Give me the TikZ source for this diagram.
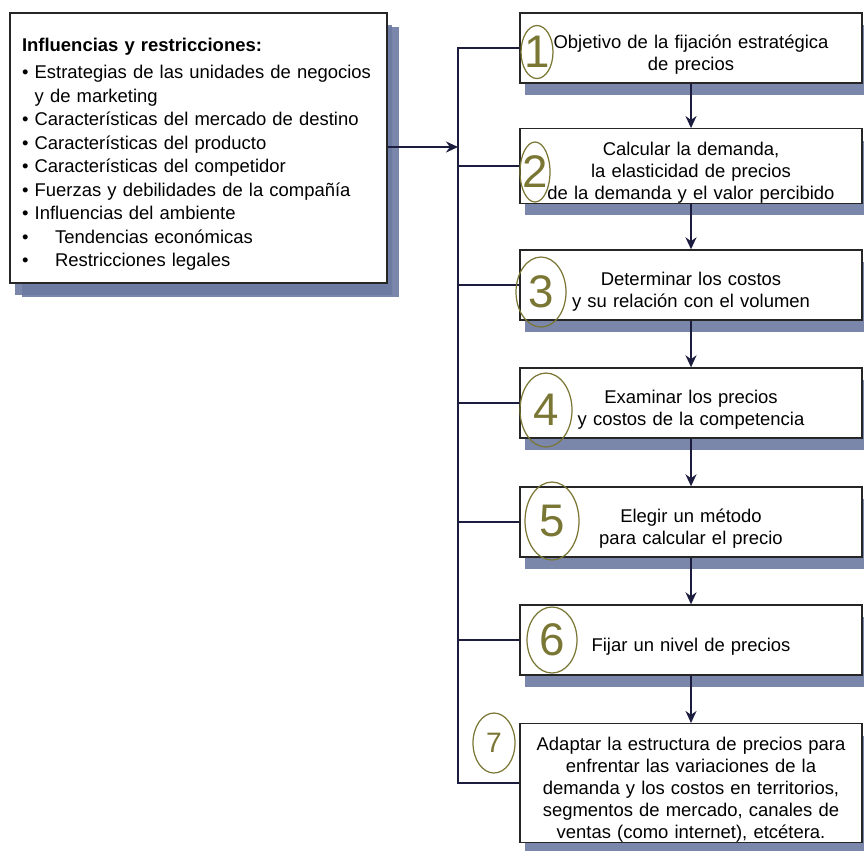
\documentclass[tikz,border=0pt]{standalone}
\usepackage{fontspec}
\setmainfont{Liberation Sans}
\usetikzlibrary{arrows,arrows.meta,shapes,shadows}
\definecolor{inkline}{RGB}{28,28,62}
\definecolor{shadeblue}{RGB}{108,122,162}
\definecolor{pencil}{RGB}{122,118,52}
\tikzstyle{stepbox}=[draw=black!85,line width=0.8pt,fill=white,minimum width=6.84cm,minimum height=1.4cm,text width=6.6cm,align=center,inner sep=0pt,font=\fontsize{10.5}{12.6}\selectfont,execute at begin node={\rule{0pt}{15pt}},drop shadow={shadow xshift=0.1cm,shadow yshift=-0.24cm,fill=shadeblue,opacity=0.9}]
\tikzstyle{factorbox}=[stepbox,minimum width=7.54cm,minimum height=5.4cm,text width=7.06cm,align=left,font=\fontsize{10.5}{13.4}\selectfont,drop shadow={shadow xshift=0.24cm,shadow yshift=-0.28cm,fill=shadeblue,opacity=0.9}]
\tikzstyle{numring}=[ellipse,draw=pencil,line width=0.7pt,inner sep=0pt]
\tikzstyle{ringdigit}=[text=pencil,font=\fontsize{26}{26}\selectfont]
\tikzstyle{flowedge}=[draw,inkline,line width=1.1pt,-{Stealth[length=0.24cm,width=0.22cm]}]
\tikzstyle{bracketline}=[draw,inkline,line width=1.1pt]

\begin{document}
\begin{tikzpicture}[x=0.02cm,y=-0.02cm]
    \useasboundingbox (0,0) rectangle (864,850);
    % Left box with the influences
    \node[factorbox] (infl) at (198.5,148) {\textbf{Influencias y restricciones:}\\[2pt]
        \textbullet\ Estrategias de las unidades de negocios\\
        \phantom{\textbullet\ }y de marketing\\
        \textbullet\ Características del mercado de destino\\
        \textbullet\ Características del producto\\
        \textbullet\ Características del competidor\\
        \textbullet\ Fuerzas y debilidades de la compañía\\
        \textbullet\ Influencias del ambiente\\
        \makebox[0.66cm][l]{\textbullet}Tendencias económicas\\
        \makebox[0.66cm][l]{\textbullet}Restricciones legales};

    % The steps, top to bottom
    \foreach \pos/\name/\txt in {{(691,48)/s1/{Objetivo de la fijación estratégica\\de precios}},
        {(691,166)/s2/{Calcular la demanda,\\la elasticidad de precios\\de la demanda y el valor percibido}},
        {(691,285)/s3/{Determinar los costos\\y su relación con el volumen}},
        {(691,403)/s4/{Examinar los precios\\y costos de la competencia}},
        {(691,522)/s5/{Elegir un método\\para calcular el precio}},
        {(691,640)/s6/{Fijar un nivel de precios}}}
        \node[stepbox] (\name) at \pos {\txt};
    \node[stepbox,minimum height=2.36cm] (s7) at (691,783) {Adaptar la estructura de precios para\\enfrentar las variaciones de la\\demanda y los costos en territorios,\\segmentos de mercado, canales de\\ventas (como internet), etcétera.};

    % Arrows between steps
    \foreach \source/\dest in {s1/s2, s2/s3, s3/s4, s4/s5, s5/s6, s6/s7}
        \path[flowedge] (\source) -- (\dest);

    % Bracket joining the influences to every step
    \coordinate (joint) at (458,147);
    \path[bracketline] (s1.west) -- (s1.west -| joint) -- (s7.west -| joint) -- (s7.west);
    \foreach \name in {s2,s3,s4,s5,s6}
        \path[bracketline] (\name.west) -- (\name.west -| joint);
    \path[flowedge] (infl.east |- joint) -- (joint);

    % Pencil numbers
    \foreach \pos/\name/\w/\h/\num in {{(537,52)/r1/0.64/1.06/1}, {(535,172)/r2/0.6/1.2/2},
        {(541,292)/r3/1.0/1.4/3}, {(546,410)/r4/1.04/1.48/4},
        {(552,521)/r5/1.08/1.56/5}, {(552,640)/r6/1.0/1.32/6}}
        \node[numring,minimum width=\w cm,minimum height=\h cm,label={[ringdigit]center:\num}] (\name) at \pos {};
    \node[numring,minimum width=0.84cm,minimum height=1.2cm,label={[ringdigit,font=\fontsize{16}{16}\selectfont]center:7}] (r7) at (494,743) {};
\end{tikzpicture}
\end{document}
